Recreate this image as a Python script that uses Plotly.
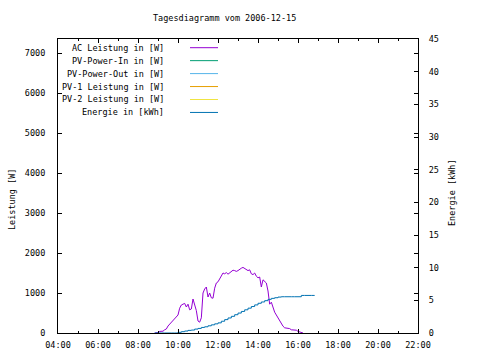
import plotly.graph_objects as go

DAY = "2006-12-15"

# AC Leistung [W], 5-minute readings
ac_times = ["08:50","08:55","09:00","09:05","09:10","09:15","09:20","09:25","09:30","09:35",
            "09:40","09:45","09:50","09:55","10:00","10:05","10:10","10:15","10:20","10:25",
            "10:30","10:35","10:40","10:45","10:50","10:55","11:00","11:05","11:10","11:15",
            "11:20","11:25","11:30","11:35","11:40","11:45","11:50","11:55","12:00","12:05",
            "12:10","12:15","12:20","12:25","12:30","12:35","12:40","12:45","12:50","12:55",
            "13:00","13:05","13:10","13:15","13:20","13:25","13:30","13:35","13:40","13:45",
            "13:50","13:55","14:00","14:05","14:10","14:15","14:20","14:25","14:30","14:35",
            "14:40","14:45","14:50","14:55","15:00","15:05","15:10","15:15","15:20","15:25",
            "15:30","15:35","15:40","15:45","15:50","15:55","16:00","16:05","16:10","16:15"]
ac_power = [0, 0, 10, 40, 40, 45, 80, 100, 175, 220,
            260, 300, 360, 380, 450, 620, 700, 720, 740, 650,
            720, 580, 600, 850, 700, 560, 300, 270, 380, 1000,
            1100, 1150, 900, 1000, 880, 870, 1120, 1250, 1280, 1350,
            1450, 1500, 1480, 1510, 1470, 1500, 1530, 1570, 1560, 1540,
            1560, 1600, 1620, 1640, 1620, 1600, 1560, 1580, 1480, 1460,
            1500, 1420, 1380, 1400, 1150, 1330, 1300, 1250, 1050, 720,
            770, 620, 520, 450, 380, 280, 220, 170, 130, 125,
            120, 110, 80, 75, 70, 70, 40, 30, 20, 0]

# Energie [kWh], 10-minute readings
en_times = ["08:50","09:00","09:10","09:20","09:30","09:40","09:50","10:00","10:10","10:20",
            "10:30","10:40","10:50","11:00","11:10","11:20","11:30","11:40","11:50","12:00",
            "12:10","12:20","12:30","12:40","12:50","13:00","13:10","13:20","13:30","13:40",
            "13:50","14:00","14:10","14:20","14:30","14:40","14:50","15:00","15:10","15:20",
            "15:30","15:40","15:50","16:00","16:10","16:20","16:30","16:40","16:50"]
energy = [0, 0, 0, 0, 0, 0, 0, 0.1, 0.2, 0.3,
          0.4, 0.45, 0.6, 0.7, 0.85, 0.95, 1.1, 1.25, 1.4, 1.55,
          1.8, 2.05, 2.3, 2.55, 2.8, 3.05, 3.3, 3.55, 3.8, 4.05,
          4.3, 4.55, 4.75, 4.95, 5.15, 5.3, 5.4, 5.5, 5.55, 5.55,
          5.55, 5.55, 5.55, 5.55, 5.75, 5.75, 5.75, 5.75, 5.75]

series_names = ["AC Leistung in [W]", "PV-Power-In in [W]", "PV-Power-Out in [W]",
                "PV-1 Leistung in [W]", "PV-2 Leistung in [W]", "Energie in [kWh]"]
series_colors = ["#9400D3", "#009E73", "#56B4E9", "#E69F00", "#F0E442", "#0072B2"]

title_text = "Tagesdiagramm vom 2006-12-15"
y_title = "Leistung [W]"
y2_title = "Energie [kWh]"

FONT = "DejaVu Sans Mono"
FS = 8.5

W, H = 480, 360
L, R, T, B = 58, 418, 39, 333


def px(x):
    return (x - L) / (R - L)


def py(y):
    return (B - y) / (B - T)


fig = go.Figure()
fig.add_trace(go.Scatter(x=[f"{DAY} {t}" for t in ac_times], y=ac_power, mode="lines",
                         line=dict(color=series_colors[0], width=1), name=series_names[0],
                         showlegend=False))
fig.add_trace(go.Scatter(x=[f"{DAY} {t}" for t in en_times], y=energy, mode="lines",
                         line=dict(color=series_colors[5], width=1, shape="hv"),
                         name=series_names[5], yaxis="y2", showlegend=False))

annotations = [
    dict(text=title_text, x=px(224), y=py(18), xref="paper", yref="paper",
         showarrow=False, xanchor="center", yanchor="middle"),
    dict(text=y_title, x=px(12), y=py(200), xref="paper", yref="paper", textangle=-90,
         showarrow=False, xanchor="center", yanchor="middle"),
    dict(text=y2_title, x=px(452), y=py(193), xref="paper", yref="paper", textangle=-90,
         showarrow=False, xanchor="center", yanchor="middle"),
]
shapes = []
row0, row_step = 47.7, 12.95
for i, (nm, col) in enumerate(zip(series_names, series_colors)):
    yy = row0 + i * row_step
    annotations.append(dict(text=nm, x=px(166), y=py(yy), xref="paper", yref="paper",
                            showarrow=False, xanchor="right", yanchor="middle"))
    shapes.append(dict(type="line", xref="paper", yref="paper", x0=px(190), x1=px(218),
                       y0=py(yy), y1=py(yy), line=dict(color=col, width=1)))

axis_common = dict(showline=True, linecolor="black", linewidth=1, showgrid=False,
                   zeroline=False, ticks="inside", tickcolor="black", ticklen=4,
                   tickfont=dict(family=FONT, size=FS, color="black"))

fig.update_layout(
    width=W, height=H,
    margin=dict(l=L, r=W - R, t=T, b=H - B, pad=0),
    paper_bgcolor="white", plot_bgcolor="white",
    font=dict(family=FONT, size=FS, color="black"),
    showlegend=False,
    annotations=annotations, shapes=shapes,
    xaxis=dict(type="date", range=[f"{DAY} 04:00", f"{DAY} 22:00"],
               tick0=f"{DAY} 04:00", dtick=7200000, tickformat="%H:%M",
               mirror="ticks", ticklabelstandoff=4, automargin=False,
               minor=dict(dtick=3600000, ticks="inside", ticklen=2, tickcolor="black"),
               **axis_common),
    yaxis=dict(range=[0, 7350], dtick=1000, mirror="ticks", ticklabelstandoff=10,
               automargin=False, **axis_common),
    yaxis2=dict(range=[0, 45], dtick=5, overlaying="y", side="right",
                ticklabelstandoff=8, automargin=False, **axis_common),
)

fig.write_html("out.html", config={"displayModeBar": False},
               post_script="document.body.style.margin='0';document.body.style.padding='0';")
